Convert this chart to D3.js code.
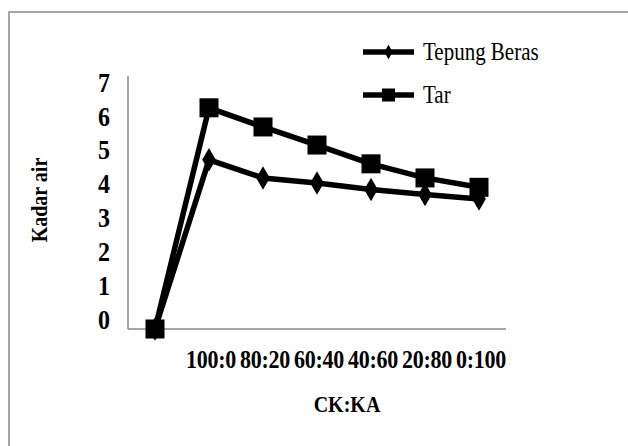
<!DOCTYPE html>
<html>
<head>
<meta charset="utf-8">
<script src="https://cdn.jsdelivr.net/npm/d3@7"></script>
<style>
  body { margin: 0; background: #fff; }
  text { font-family: "Liberation Serif", "Times New Roman", serif; }
</style>
</head>
<body>
<svg width="628" height="446"></svg>
<script>
const categories = ["", "100:0", "80:20", "60:40", "40:60", "20:80", "0:100"];
const tepungBeras = [0, 4.68, 4.18, 4.04, 3.86, 3.72, 3.6];
const tar = [0, 6.12, 5.59, 5.09, 4.57, 4.18, 3.92];
const yTicks = [0, 1, 2, 3, 4, 5, 6, 7];
const seriesNames = ["Tepung Beras", "Tar"];

const svg = d3.select('svg');

// outer frame
svg.append('rect')
    .attr('x', 9).attr('y', 12)
    .attr('width', 640).attr('height', 460)
    .attr('fill', 'none')
    .attr('stroke', '#888')
    .attr('stroke-width', 1.5);

const plotLeft = 128, plotRight = 506, plotTop = 76, plotBottom = 329;

const xScale = d3.scaleBand()
    .domain(categories)
    .range([plotLeft, plotRight]);
const xPos = d => xScale(d) + xScale.bandwidth() / 2;

const yScale = d3.scaleLinear()
    .domain([0, 7])
    .range([plotBottom, plotTop]);

// tick labels sit slightly inside the axis range in the original
const yLabelScale = d3.scaleLinear()
    .domain([0, 7])
    .range([319, 82]);

// axes
svg.append('line')
    .attr('x1', plotLeft).attr('x2', plotLeft)
    .attr('y1', plotTop).attr('y2', plotBottom)
    .attr('stroke', '#888').attr('stroke-width', 1.5);
svg.append('line')
    .attr('x1', plotLeft).attr('x2', plotRight)
    .attr('y1', plotBottom).attr('y2', plotBottom)
    .attr('stroke', '#888').attr('stroke-width', 1.5);

// text in the original looks a little stretched vertically
svg.selectAll('.ytick').data(yTicks).enter().append('text')
    .attr('class', 'ytick')
    .attr('transform', d => `translate(104,${yLabelScale(d)}) scale(1,1.15)`)
    .attr('dy', '0.35em')
    .attr('text-anchor', 'middle')
    .attr('font-size', 24)
    .attr('font-weight', 'bold')
    .text(d => d);

svg.selectAll('.xtick').data(categories).enter().append('text')
    .attr('class', 'xtick')
    .attr('transform', d => `translate(${xPos(d) + 2},359) scale(1,1.15)`)
    .attr('dy', '0.35em')
    .attr('text-anchor', 'middle')
    .attr('font-size', 22)
    .attr('font-weight', 'bold')
    .attr('letter-spacing', -0.3)
    .text(d => d);

svg.append('text')
    .attr('transform', 'translate(347,404) scale(1,1.15)')
    .attr('dy', '0.35em')
    .attr('text-anchor', 'middle')
    .attr('font-size', 20)
    .attr('font-weight', 'bold')
    .text('CK:KA');

svg.append('text')
    .attr('transform', 'translate(39,200) rotate(-90) scale(1,1.15)')
    .attr('dy', '0.35em')
    .attr('text-anchor', 'middle')
    .attr('font-size', 20)
    .attr('font-weight', 'bold')
    .text('Kadar air');

const line = d3.line()
    .x((d, i) => xPos(categories[i]))
    .y(d => yScale(d));

const diamond = d3.symbol().type(d3.symbolDiamond).size(160);

// Tar (squares) drawn first, Tepung Beras on top
svg.append('path')
    .datum(tar)
    .attr('d', line)
    .attr('fill', 'none')
    .attr('stroke', '#000')
    .attr('stroke-width', 5.5);
svg.selectAll('.sq').data(tar).enter().append('rect')
    .attr('class', 'sq')
    .attr('x', (d, i) => xPos(categories[i]) - 9.5)
    .attr('y', d => yScale(d) - 9.5)
    .attr('width', 19).attr('height', 19)
    .attr('fill', '#000');

svg.append('path')
    .datum(tepungBeras)
    .attr('d', line)
    .attr('fill', 'none')
    .attr('stroke', '#000')
    .attr('stroke-width', 5.5);
svg.selectAll('.dm').data(tepungBeras).enter().append('path')
    .attr('class', 'dm')
    .attr('transform', (d, i) => `translate(${xPos(categories[i])},${yScale(d)})`)
    .attr('d', diamond)
    .attr('fill', '#000');

// legend
const legend = svg.selectAll('.legend').data(seriesNames).enter().append('g')
    .attr('class', 'legend')
    .attr('transform', (d, i) => `translate(363,${52 + i * 43})`);
legend.append('line')
    .attr('x1', 0).attr('x2', 51)
    .attr('stroke', '#000').attr('stroke-width', 5.5);
legend.filter((d, i) => i === 0).append('path')
    .attr('transform', 'translate(25.5,0)')
    .attr('d', d3.symbol().type(d3.symbolDiamond).size(60))
    .attr('fill', '#000');
legend.filter((d, i) => i === 1).append('rect')
    .attr('x', 19).attr('y', -6.5)
    .attr('width', 13).attr('height', 13)
    .attr('fill', '#000');
legend.append('text')
    .attr('transform', 'translate(60,0) scale(1,1.15)')
    .attr('dy', '0.35em')
    .attr('font-size', 21)
    .text(d => d);
</script>
</body>
</html>
